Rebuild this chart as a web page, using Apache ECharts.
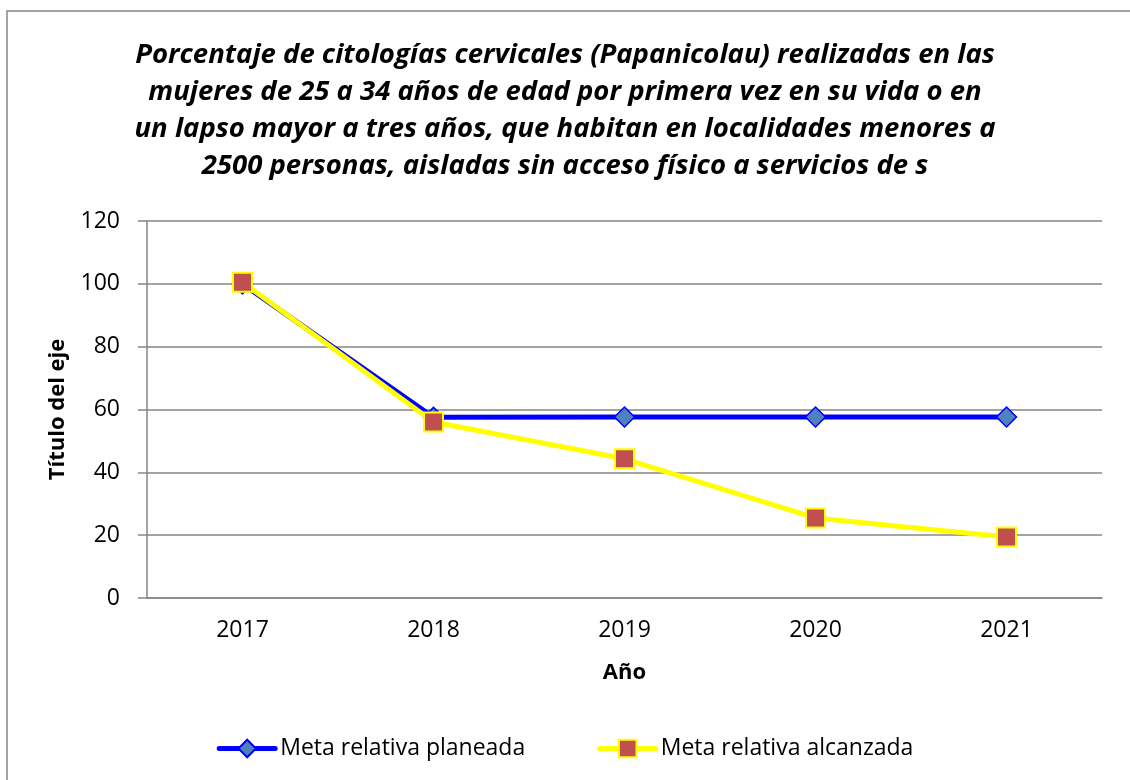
<!DOCTYPE html>
<html>
<head>
<meta charset="utf-8">
<script src="https://cdn.jsdelivr.net/npm/echarts@6/dist/echarts.min.js"></script>
<style>
html,body{margin:0;padding:0;background:#fff;}
#c{width:1130px;height:780px;}
</style>
</head>
<body>
<div id="c"></div>
<script>
const titleLines = [
  'Porcentaje de citologías cervicales (Papanicolau) realizadas en las',
  'mujeres de 25 a 34 años de edad por primera vez en su vida o en',
  'un lapso mayor a tres años, que habitan en localidades menores a',
  '2500 personas, aisladas sin acceso físico a servicios de s'
];
const years = ['2017', '2018', '2019', '2020', '2021'];
const seriesNames = ['Meta relativa planeada', 'Meta relativa alcanzada'];
const planned = [100, 57.5, 57.6, 57.6, 57.6];
const achieved = [100.5, 56, 44.3, 25.5, 19.4];
const yTicks = { min: 0, max: 120, interval: 20 };
const xTitle = 'Año';
const yTitle = 'Título del eje';

const FONT = '"Open Sans", "Noto Sans", sans-serif';
const chart = echarts.init(document.getElementById('c'), null, { renderer: 'canvas' });
chart.setOption({
  backgroundColor: '#ffffff',
  animation: false,
  graphic: [{
    type: 'rect',
    shape: { x: 7, y: 11, width: 1200, height: 900 },
    style: { fill: 'none', stroke: '#868686', lineWidth: 1.5 },
    silent: true, z: -10
  }],
  title: {
    text: titleLines.join('\n'),
    left: 'center',
    top: 32,
    textStyle: {
      fontFamily: FONT, fontSize: 27.5, fontWeight: 'bold', fontStyle: 'italic',
      color: '#000', lineHeight: 37
    }
  },
  legend: {
    top: 732,
    left: 'center',
    itemWidth: 56,
    itemHeight: 22,
    itemGap: 72,
    lineStyle: { width: 5, cap: 'round' },
    textStyle: { fontFamily: FONT, fontSize: 23, color: '#000' },
    data: seriesNames
  },
  grid: { left: 147, right: 28, top: 221, bottom: 182 },
  xAxis: {
    type: 'category',
    data: years,
    boundaryGap: true,
    name: xTitle,
    nameLocation: 'middle',
    nameGap: 64,
    nameTextStyle: { fontFamily: FONT, fontSize: 22, fontWeight: 'bold', color: '#000' },
    axisLine: { lineStyle: { color: '#868686', width: 1.5 } },
    axisTick: { show: false },
    axisLabel: { fontFamily: FONT, fontSize: 23, color: '#000', margin: 21 }
  },
  yAxis: {
    type: 'value',
    min: yTicks.min, max: yTicks.max, interval: yTicks.interval,
    name: yTitle,
    nameLocation: 'middle',
    nameGap: 78,
    nameTextStyle: { fontFamily: FONT, fontSize: 22, fontWeight: 'bold', color: '#000' },
    axisLine: { show: true, lineStyle: { color: '#868686', width: 1.5 } },
    axisTick: { show: true, length: 9, lineStyle: { color: '#868686', width: 1.5 } },
    splitLine: { lineStyle: { color: '#868686', width: 1.5 } },
    axisLabel: { fontFamily: FONT, fontSize: 23, color: '#000', margin: 27 }
  },
  series: [
    {
      name: seriesNames[0],
      type: 'line',
      data: planned,
      symbol: 'diamond',
      symbolSize: 20,
      lineStyle: { color: '#0000FF', width: 5 },
      itemStyle: { color: '#4F81BD', borderColor: '#0000FF', borderWidth: 1.5 },
      z: 2
    },
    {
      name: seriesNames[1],
      type: 'line',
      data: achieved,
      symbol: 'rect',
      symbolSize: 19,
      lineStyle: { color: '#FFFF00', width: 5 },
      itemStyle: { color: '#C0504D', borderColor: '#FFFF00', borderWidth: 2 },
      z: 3
    }
  ]
});
</script>
</body>
</html>
